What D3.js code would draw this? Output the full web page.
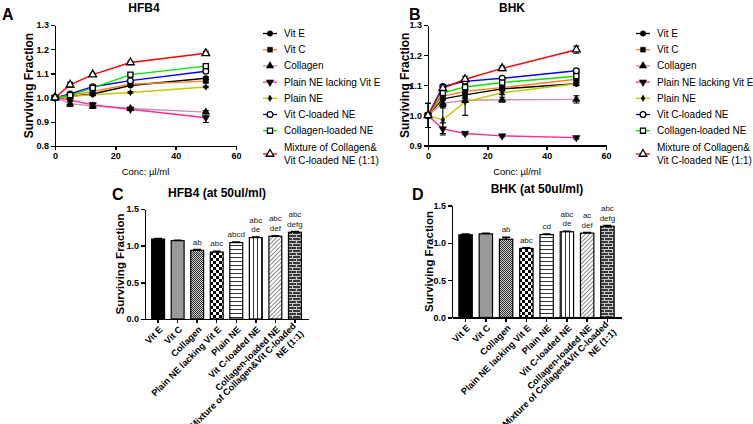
<!DOCTYPE html>
<meta charset="utf-8">
<style>
    body { margin: 0; background: #fff; }
    svg text { font-family: "Liberation Sans", Arial, sans-serif; fill: #000; }
    .axis path, .axis line { stroke: #000; stroke-width: 1.4px; shape-rendering: crispEdges; }
    .axis text { font-size: 9px; font-weight: bold; }
</style>
<svg id="fig" width="753" height="424"></svg>
<script src="https://cdn.jsdelivr.net/npm/d3@7"></script>
<script>
    // concentrations (µl/ml)
    var concs = [0, 5, 12.5, 25, 50];

    var seriesNames = ["Vit E", "Vit C", "Collagen", "Plain NE lacking Vit E", "Plain NE",
        "Vit C-loaded NE", "Collagen-loaded NE", "Mixture of Collagen& Vit C-loaded NE (1:1)"];
    var legendLines = [["Vit E"], ["Vit C"], ["Collagen"], ["Plain NE lacking Vit E"], ["Plain NE"],
        ["Vit C-loaded NE"], ["Collagen-loaded NE"], ["Mixture of Collagen&", "Vit C-loaded NE (1:1)"]];
    var barLabels = [["Vit E"], ["Vit C"], ["Collagen"], ["Plain NE lacking Vit E"], ["Plain NE"],
        ["Vit C-loaded NE"], ["Collagen-loaded NE"], ["Mixture of Collagen&Vit C-loaded", "NE (1:1)"]];

    var lineColors = ["#000000", "#ff7f1e", "#cc8fb6", "#ff2a92", "#c8c400", "#0000ff", "#00e600", "#ff0000"];
    var markers = ["circle", "square", "triangle", "triangleDown", "diamond", "openCircle", "openSquare", "openTriangle"];

    // panel A: HFB4 means / SEM, one row per series
    var hfb4Means = [
        [1.0, 1.005, 1.015, 1.05, 1.08],
        [1.0, 1.01, 1.025, 1.055, 1.068],
        [1.0, 0.975, 0.965, 0.955, 0.94],
        [1.0, 0.99, 0.97, 0.952, 0.917],
        [1.0, 1.005, 1.012, 1.021, 1.044],
        [1.0, 1.015, 1.045, 1.07, 1.109],
        [1.0, 1.01, 1.04, 1.095, 1.13],
        [1.0, 1.053, 1.095, 1.145, 1.183]
    ];
    var hfb4Errs = [
        [0, 0.006, 0.006, 0.004, 0.006],
        [0, 0.005, 0.005, 0.004, 0.005],
        [0, 0.012, 0.01, 0.005, 0.006],
        [0, 0.005, 0.008, 0.005, 0.02],
        [0, 0.004, 0.004, 0.003, 0.003],
        [0, 0.005, 0.006, 0.005, 0.006],
        [0, 0.005, 0.006, 0.006, 0.006],
        [0, 0.01, 0.005, 0.005, 0.008]
    ];

    // panel B: BHK means / SEM
    var bhkMeans = [
        [1.0, 1.055, 1.068, 1.088, 1.105],
        [1.0, 1.063, 1.08, 1.092, 1.12],
        [1.0, 1.04, 1.05, 1.052, 1.053],
        [1.0, 0.955, 0.94, 0.932, 0.926],
        [1.0, 0.985, 1.045, 1.075, 1.105],
        [1.0, 1.096, 1.113, 1.123, 1.148],
        [1.0, 1.075, 1.094, 1.109, 1.13],
        [1.0, 1.09, 1.12, 1.156, 1.218]
    ];
    var bhkErrs = [
        [0.04, 0.03, 0.01, 0.005, 0.005],
        [0, 0.01, 0.006, 0.005, 0.005],
        [0, 0.01, 0.006, 0.008, 0.012],
        [0, 0.02, 0.004, 0.004, 0.004],
        [0.04, 0.045, 0.045, 0.006, 0.006],
        [0, 0.005, 0.006, 0.005, 0.006],
        [0, 0.006, 0.006, 0.005, 0.006],
        [0, 0.008, 0.01, 0.008, 0.012]
    ];

    // panels C / D: surviving fraction at 50 µl/ml
    var hfb4Bars = [1.09, 1.068, 0.936, 0.912, 1.042, 1.11, 1.128, 1.183];
    var hfb4BarErrs = [0.008, 0.006, 0.01, 0.01, 0.006, 0.008, 0.008, 0.01];
    var hfb4Sig = ["", "", "ab", "abc", "abcd", "abc\nde", "abc\ndef", "abc\ndefg"];

    var bhkBars = [1.108, 1.12, 1.048, 0.925, 1.11, 1.148, 1.13, 1.222];
    var bhkBarErrs = [0.008, 0.008, 0.025, 0.008, 0.006, 0.008, 0.008, 0.01];
    var bhkSig = ["", "", "ab", "abc", "cd", "abc\nde", "ac\ndef", "abc\ndefg"];

    var barFills = ["#000", "#9a9a9a", "url(#pFine)", "url(#pCheck)", "url(#pHoriz)",
        "url(#pVert)", "url(#pDiag)", "url(#pBrick)"];

    var svg = d3.select("#fig");
    svg.append("rect").attr("width", 753).attr("height", 424).attr("fill", "#fff");

    // ---- hatch patterns for the bar charts
    var defs = svg.append("defs");
    var p = defs.append("pattern").attr("id", "pFine").attr("patternUnits", "userSpaceOnUse").attr("width", 2).attr("height", 2);
    p.append("rect").attr("width", 2).attr("height", 2).attr("fill", "#c8c8c8");
    p.append("rect").attr("width", 1).attr("height", 1).attr("fill", "#333");
    p.append("rect").attr("x", 1).attr("y", 1).attr("width", 1).attr("height", 1).attr("fill", "#333");

    p = defs.append("pattern").attr("id", "pCheck").attr("patternUnits", "userSpaceOnUse").attr("width", 6).attr("height", 6);
    p.append("rect").attr("width", 6).attr("height", 6).attr("fill", "#fff");
    p.append("rect").attr("width", 3).attr("height", 3).attr("fill", "#000");
    p.append("rect").attr("x", 3).attr("y", 3).attr("width", 3).attr("height", 3).attr("fill", "#000");

    p = defs.append("pattern").attr("id", "pHoriz").attr("patternUnits", "userSpaceOnUse").attr("width", 4).attr("height", 4);
    p.append("rect").attr("width", 4).attr("height", 4).attr("fill", "#fff");
    p.append("rect").attr("y", 1).attr("width", 4).attr("height", 1).attr("fill", "#333");

    p = defs.append("pattern").attr("id", "pVert").attr("patternUnits", "userSpaceOnUse").attr("width", 4).attr("height", 4);
    p.append("rect").attr("width", 4).attr("height", 4).attr("fill", "#fff");
    p.append("rect").attr("x", 1).attr("width", 1).attr("height", 4).attr("fill", "#333");

    p = defs.append("pattern").attr("id", "pDiag").attr("patternUnits", "userSpaceOnUse").attr("width", 3).attr("height", 3)
        .attr("patternTransform", "rotate(45)");
    p.append("rect").attr("width", 3).attr("height", 3).attr("fill", "#fff");
    p.append("rect").attr("width", 1).attr("height", 3).attr("fill", "#8a8a8a");

    p = defs.append("pattern").attr("id", "pBrick").attr("patternUnits", "userSpaceOnUse").attr("width", 8).attr("height", 6);
    p.append("rect").attr("width", 8).attr("height", 6).attr("fill", "#3a3a3a");
    p.append("rect").attr("width", 8).attr("height", 1).attr("fill", "#c8c8c8");
    p.append("rect").attr("y", 3).attr("width", 8).attr("height", 1).attr("fill", "#c8c8c8");
    p.append("rect").attr("x", 0).attr("width", 1).attr("height", 3).attr("fill", "#c8c8c8");
    p.append("rect").attr("x", 4).attr("y", 3).attr("width", 1).attr("height", 3).attr("fill", "#c8c8c8");

    function drawMarker(g, kind, x, y) {
        var open = kind.indexOf("open") === 0;
        var shape = {
            circle: d3.symbolCircle, openCircle: d3.symbolCircle,
            square: d3.symbolSquare, openSquare: d3.symbolSquare,
            triangle: d3.symbolTriangle, openTriangle: d3.symbolTriangle,
            triangleDown: d3.symbolTriangle, diamond: d3.symbolDiamond
        }[kind];
        var size = kind === "diamond" ? 12 : (open ? 26 : 24);
        var rot = kind === "triangleDown" ? " rotate(180)" : "";
        g.append("path")
            .attr("d", d3.symbol().type(shape).size(size)())
            .attr("transform", "translate(" + x + "," + y + ")" + rot)
            .attr("fill", open ? "#fff" : "#000")
            .attr("stroke", "#000")
            .attr("stroke-width", open ? 1.3 : 0.5);
    }

    function drawLinePanel(cfg) {
        var g = svg.append("g");
        var x = d3.scaleLinear().domain([0, 60]).range([cfg.left, cfg.right]);
        var y = d3.scaleLinear().domain(cfg.yDomain).range([cfg.bottom, cfg.top]);

        g.append("g").attr("class", "axis")
            .attr("transform", "translate(0," + cfg.bottom + ")")
            .call(d3.axisBottom(x).tickValues([0, 20, 40, 60]).tickSize(4).tickSizeOuter(0).tickPadding(3));
        g.append("g").attr("class", "axis")
            .attr("transform", "translate(" + cfg.left + ",0)")
            .call(d3.axisLeft(y).tickValues(cfg.yTicks).tickFormat(d3.format(".1f")).tickSize(4).tickSizeOuter(0).tickPadding(2));

        var line = d3.line().x(function (d) { return x(d[0]); }).y(function (d) { return y(d[1]); });

        cfg.means.forEach(function (m, s) {
            var pts = concs.map(function (c, i) { return [c, m[i]]; });
            g.append("path").attr("d", line(pts)).attr("fill", "none")
                .attr("stroke", lineColors[s]).attr("stroke-width", 1.4);
        });
        cfg.means.forEach(function (m, s) {
            concs.forEach(function (c, i) {
                var e = cfg.errs[s][i];
                if (!e) return;
                var cx = x(c), y0 = y(m[i] - e), y1 = y(m[i] + e);
                g.append("path")
                    .attr("d", "M" + cx + "," + y0 + "V" + y1 + "M" + (cx - 3) + "," + y0 + "h6M" + (cx - 3) + "," + y1 + "h6")
                    .attr("stroke", "#000").attr("stroke-width", 1.1).attr("fill", "none");
            });
        });
        cfg.means.forEach(function (m, s) {
            concs.forEach(function (c, i) { drawMarker(g, markers[s], x(c), y(m[i])); });
        });

        g.append("text").attr("x", cfg.titleX).attr("y", 12)
            .attr("text-anchor", "middle").style("font-size", "12px").style("font-weight", "bold").text(cfg.title);
        g.append("text").attr("x", cfg.letterX).attr("y", 20)
            .style("font-size", "16px").style("font-weight", "bold").text(cfg.letter);
        g.append("text").attr("x", (cfg.left + cfg.right) / 2).attr("y", 175)
            .attr("text-anchor", "middle").style("font-size", "9.5px").text("Conc: \u00b5l/ml");
        g.append("text").attr("transform", "translate(" + cfg.yLabelX + "," + ((cfg.top + cfg.bottom) / 2) + ") rotate(-90)")
            .attr("text-anchor", "middle").style("font-size", "12px").style("font-weight", "bold").text("Surviving Fraction");

        // legend
        var lg = g.append("g");
        legendLines.forEach(function (lines, s) {
            var ry = s < 7 ? 33.5 + s * 16.2 : 154;
            lg.append("line").attr("x1", cfg.legX).attr("x2", cfg.legX + 14).attr("y1", ry).attr("y2", ry)
                .attr("stroke", lineColors[s]).attr("stroke-width", 1.3);
            drawMarker(lg, markers[s], cfg.legX + 7, ry);
            lines.forEach(function (t, k) {
                lg.append("text").attr("x", cfg.legX + 21).attr("y", ry + 3.5 + (lines.length > 1 ? (k - 0.5) * 13.5 : 0))
                    .style("font-size", "10px").text(t);
            });
        });
    }

    function drawBarPanel(cfg) {
        var g = svg.append("g");
        var x = d3.scaleBand().domain(d3.range(8)).range([cfg.left, cfg.right])
            .paddingInner(0.34).paddingOuter(0.34);
        var y = d3.scaleLinear().domain([0, 1.5]).range([cfg.bottom, cfg.top]);

        g.selectAll(".bar").data(cfg.values).enter().append("rect")
            .attr("x", function (d, i) { return x(i); })
            .attr("y", function (d) { return y(d); })
            .attr("width", x.bandwidth())
            .attr("height", function (d) { return cfg.bottom - y(d); })
            .attr("fill", function (d, i) { return barFills[i]; })
            .attr("stroke", "#000").attr("stroke-width", 1.2);

        cfg.values.forEach(function (v, i) {
            var cx = x(i) + x.bandwidth() / 2, y1 = y(v + cfg.errs[i]), y0 = y(v);
            g.append("path").attr("d", "M" + cx + "," + y0 + "V" + y1 + "M" + (cx - 4) + "," + y1 + "h8")
                .attr("stroke", "#000").attr("stroke-width", 1.6);
            var lines = cfg.sig[i] ? cfg.sig[i].split("\n") : [];
            lines.forEach(function (t, k) {
                g.append("text").attr("x", cx).attr("y", y1 - 5 - (lines.length - 1 - k) * 9.5)
                    .attr("text-anchor", "middle").style("font-size", "8px").style("fill", "#222").text(t);
            });
        });

        g.append("g").attr("class", "axis")
            .attr("transform", "translate(" + cfg.left + ",0)")
            .call(d3.axisLeft(y).tickValues([0, 0.5, 1.0, 1.5]).tickFormat(d3.format(".1f")).tickSize(4).tickSizeOuter(0).tickPadding(2));
        g.append("g").attr("class", "axis")
            .attr("transform", "translate(0," + cfg.bottom + ")")
            .call(d3.axisBottom(x).tickSize(4).tickSizeOuter(0).tickFormat(""));

        barLabels.forEach(function (lines, i) {
            var cx = x(i) + x.bandwidth() / 2 + 3;
            var t = g.append("text").attr("transform", "translate(" + cx + "," + (cfg.bottom + 9) + ") rotate(-45)")
                .attr("text-anchor", "end").style("font-size", "9.2px").style("font-weight", "bold");
            lines.forEach(function (s, k) {
                t.append("tspan").attr("x", 0).attr("y", lines.length > 1 ? (k === 0 ? -2 : 9) : 3).text(s);
            });
        });

        g.append("text").attr("x", cfg.titleX).attr("y", cfg.titleY)
            .attr("text-anchor", "middle").style("font-size", "12px").style("font-weight", "bold").text(cfg.title);
        g.append("text").attr("x", cfg.letterX).attr("y", 200)
            .style("font-size", "16px").style("font-weight", "bold").text(cfg.letter);
        g.append("text").attr("transform", "translate(" + cfg.yLabelX + "," + ((cfg.top + cfg.bottom) / 2) + ") rotate(-90)")
            .attr("text-anchor", "middle").style("font-size", "11.5px").style("font-weight", "bold").text("Surviving Fraction");
    }

    drawLinePanel({ left: 55, right: 236, top: 25, bottom: 146, yDomain: [0.8, 1.3],
        yTicks: [0.8, 0.9, 1.0, 1.1, 1.2, 1.3], means: hfb4Means, errs: hfb4Errs,
        title: "HFB4", titleX: 144, letter: "A", letterX: 2, yLabelX: 33, legX: 263 });
    drawLinePanel({ left: 428, right: 606, top: 25, bottom: 145.5, yDomain: [0.9, 1.3],
        yTicks: [0.9, 1.0, 1.1, 1.2, 1.3], means: bhkMeans, errs: bhkErrs,
        title: "BHK", titleX: 512, letter: "B", letterX: 409, yLabelX: 409, legX: 636 });

    drawBarPanel({ left: 145, right: 308, top: 209, bottom: 319, values: hfb4Bars, errs: hfb4BarErrs,
        sig: hfb4Sig, title: "HFB4 (at 50ul/ml)", titleX: 217, titleY: 197, letter: "C", letterX: 112, yLabelX: 124 });
    drawBarPanel({ left: 452, right: 621, top: 205.5, bottom: 317.5, values: bhkBars, errs: bhkBarErrs,
        sig: bhkSig, title: "BHK (at 50ul/ml)", titleX: 537, titleY: 193, letter: "D", letterX: 412, yLabelX: 433 });
</script>
